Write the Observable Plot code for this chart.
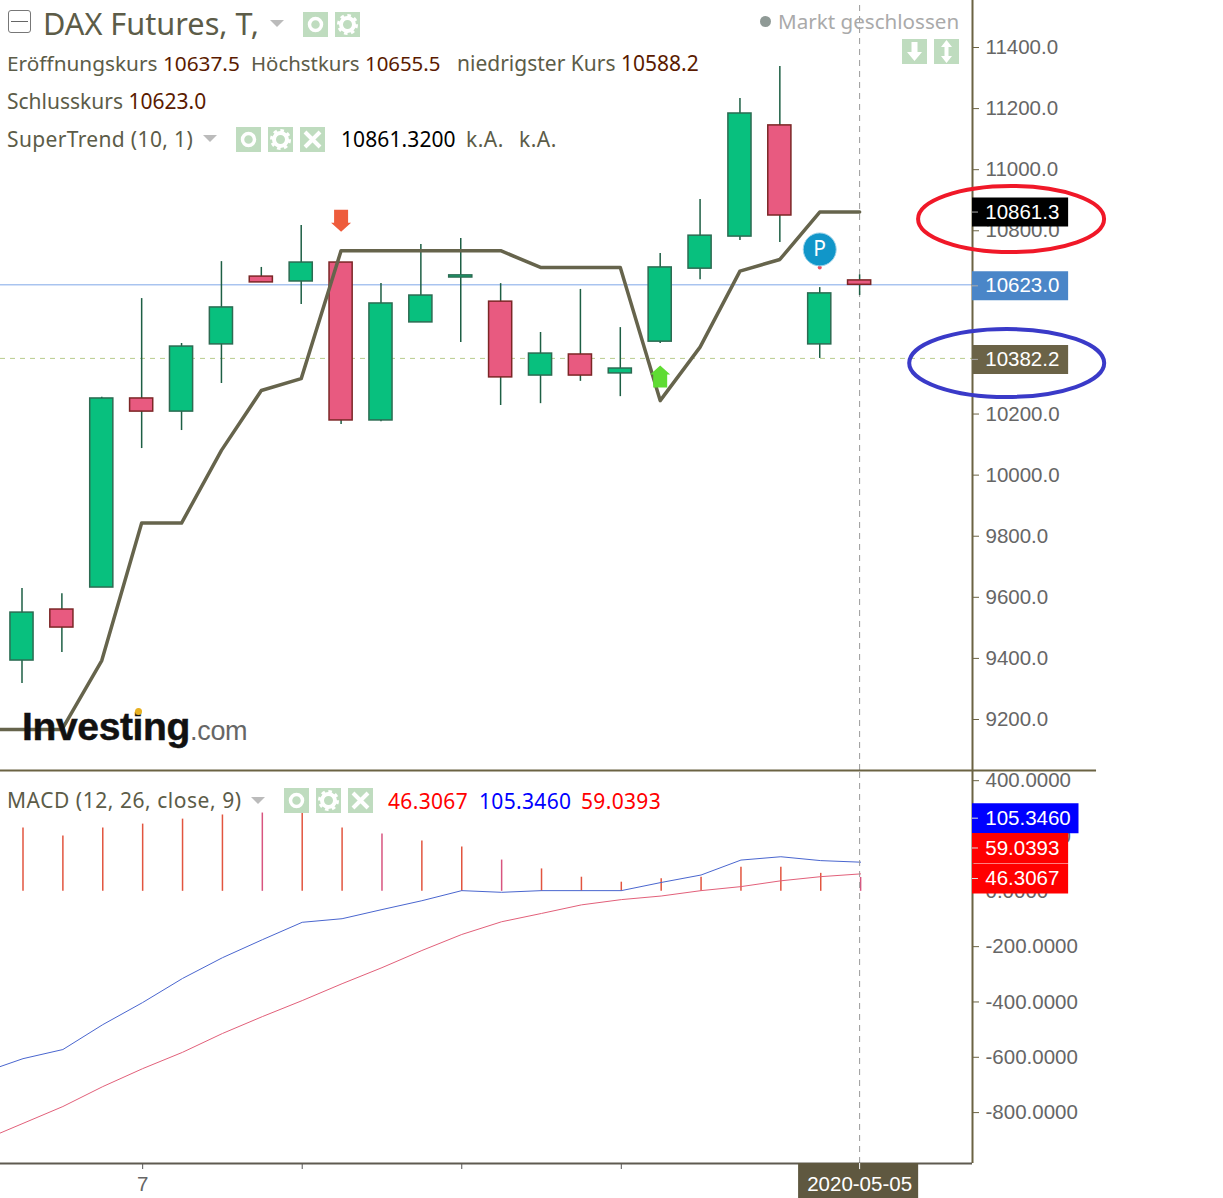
<!DOCTYPE html>
<html><head><meta charset="utf-8">
<script src="https://cdn.jsdelivr.net/npm/d3@7"></script>
<script src="https://cdn.jsdelivr.net/npm/@observablehq/plot@0.6"></script>
<style>
html,body{margin:0;padding:0;background:#fff;}
#wrap{position:relative;width:1223px;height:1198px;overflow:hidden;}
#wrap>div>svg{display:block;}
.p{position:absolute;left:0;}
.t{position:absolute;white-space:nowrap;font-family:"Noto Sans",sans-serif;font-size:21px;line-height:24px;color:#5c5c48;}
.v{color:#5a1a00;}
.ic{position:absolute;}
.tri{position:absolute;width:0;height:0;border-left:7px solid transparent;border-right:7px solid transparent;border-top:7px solid #bbb;}
</style>
</head><body><div id="wrap"></div>
<script>
// ---- data ----
const barIndex = [0,1,2,3,4,5,6,7,8,9,10,11,12,13,14,15,16,17,18,19,20,21];
const opens  = [9393,9560,9632,10251,10208,10428,10650,10634,10696,10179,10500,10647,10568,10326,10395,10333,10437,10676,10781,11145,10428,10637.5];
const highs  = [9629,9612,10255,10578,10431,10699,10680,10817,10696,10627,10755,10775,10627,10467,10608,10483,10726,10902,11233,11338,10614,10655.5];
const lows   = [9318,9419,9632,10087,10146,10300,10631,10559,10166,10175,10500,10434,10228,10234,10307,10257,10431,10640,10768,10762,10382,10588.2];
const closes = [9550,9501,10251,10208,10421,10549,10631,10696,10179,10562,10588,10654,10320,10398,10326,10349,10680,10784,11184,10850,10595,10623];

const lineIndex  = [-1,0,1,2,3,4,5,6,7,8,9,10,11,12,13,14,15,16,17,18,19,20,21];
const superTrend = [9167,9167,9167,9393,9843,9843,10081,10277,10316,10735,10735,10735,10735,10735,10680,10680,10680,10244,10419,10668,10706,10861.3,10861.3];
const macdLine   = [-655,-605,-572,-482,-402,-315,-240,-175,-112,-99,-66,-34,2.5,-3.6,2.5,2.5,2.5,32,59,113,125,111,105.346];
const signalLine = [-900,-839,-778,-706,-641,-582,-514,-453,-395,-334,-276,-214,-156,-110,-80,-49,-30,-17,2.5,17,38,53,63];
const histogram  = [229,200,229,243,261,276,283,283,229,207,182,160,113,81,51,33,45,51,87,87,65,50];
const histPink   = [6,9,12,21];

const priceTicks = [9200,9400,9600,9800,10000,10200,10800,11000,11200,11400];
const macdTicks  = [-800,-600,-400,-200,0,200,400];
const dayTicks   = [3,7,11,15];
const dayLabels  = ["7","","",""];

const priceTags = [
  {v:10861.3, label:"10861.3", fill:"#000000", shift:0},
  {v:10623.0, label:"10623.0", fill:"#4a86c8", shift:1},
  {v:10382.2, label:"10382.2", fill:"#6b6347", shift:1}
];
const macdTags = [
  {v:105.346, label:"105.3460", fill:"#0000ff", end:26.5, shift:-44},
  {v:59.0393, label:"59.0393",  fill:"#ff0000", end:26.24, shift:-27},
  {v:46.3067, label:"46.3067",  fill:"#ff0000", end:26.24, shift:0}
];
const candles = barIndex.map((i,k)=>({i,o:opens[k],h:highs[k],l:lows[k],c:closes[k],up:closes[k]>=opens[k]}));
const lineRows = lineIndex.map((i,k)=>({i,st:superTrend[k],m:macdLine[k],s:signalLine[k]}));
const histRows = barIndex.map((i,k)=>({i,h:histogram[k]}));

// ---- shared scale settings ----
const xDomain=[-0.539,23.83], axisAt=23.83, tagEnd=26.24, tickEnd=23.98, labelAt=24.15, half=0.29;
const axisColor="#6b6343", tickText="#666666", tickFont=20.5;
const W=1223, MR=251;

const arrow = dir => ({draw(c,size){
  const s=Math.sqrt(size/Math.PI)/10; const d=dir;
  c.moveTo(-7*s,-11*s*d); c.lineTo(7*s,-11*s*d); c.lineTo(7*s,2*s*d); c.lineTo(10*s,2*s*d);
  c.lineTo(0,11*s*d); c.lineTo(-10*s,2*s*d); c.lineTo(-7*s,2*s*d); c.closePath();
}});
const ell=(cx,cy,rx,ry,col)=>(index,{x,y})=>{
  const e=document.createElementNS("http://www.w3.org/2000/svg","ellipse");
  e.setAttribute("cx",x(cx));e.setAttribute("cy",y(cy));e.setAttribute("rx",rx);e.setAttribute("ry",ry);
  e.setAttribute("fill","none");e.setAttribute("stroke",col);e.setAttribute("stroke-width",4);
  return e;
};

const upper = Plot.plot({
  width:W, height:770, marginLeft:0, marginRight:MR, marginTop:0, marginBottom:0,
  style:{background:"transparent",fontFamily:"'Liberation Sans',Arial,sans-serif",overflow:"visible"},
  x:{domain:xDomain,axis:null},
  y:{domain:[9033,11553.9],axis:null},
  marks:[
    Plot.axisY({anchor:"right",ticks:priceTicks,tickFormat:d=>d.toFixed(1),tickSize:6,tickPadding:7,fontSize:tickFont,stroke:axisColor,fill:tickText,label:null}),
    Plot.ruleY([10623],{x1:xDomain[0],x2:axisAt,stroke:"#7fa8e8",strokeWidth:1}),
    Plot.ruleY([10382.2],{x1:xDomain[0],x2:axisAt,stroke:"#b8cc8c",strokeWidth:1,strokeDasharray:"5,5"}),
    Plot.ruleX([21],{y1:9033,y2:11553.9,stroke:"#999",strokeWidth:1,strokeDasharray:"6,5"}),
    Plot.ruleX(candles,{x:"i",y1:"l",y2:"h",stroke:"#1d5f44",strokeWidth:1.5}),
    Plot.rect(candles,{x1:d=>d.i-half,x2:d=>d.i+half,y1:d=>Math.min(d.o,d.c),y2:d=>Math.max(d.o,d.c),
      fill:d=>d.up?"#08c07e":"#e85a80",stroke:d=>d.up?"#2c6b52":"#7c2626",strokeWidth:1.5}),
    Plot.line(lineRows,{x:"i",y:"st",stroke:"#66644c",strokeWidth:3.5,curve:"linear"}),
    Plot.dot([{i:8,v:10833}],{x:"i",y:"v",r:10,symbol:arrow(1),fill:"#ee5c3c",stroke:"none"}),
    Plot.dot([{i:16,v:10323}],{x:"i",y:"v",r:10,symbol:arrow(-1),fill:"#5fdc33",stroke:"none"}),
    Plot.dot([{i:20,v:10680}],{x:"i",y:"v",r:2,fill:"#ee5060",stroke:"none"}),
    Plot.dot([{i:20,v:10739}],{x:"i",y:"v",r:16.5,fill:"#1196c9",stroke:"#9fd4ea",strokeWidth:1}),
    Plot.text(["P"],{x:()=>20,y:()=>10739,fill:"#fff",fontSize:21,fontFamily:"'Noto Sans',sans-serif"}),
    Plot.ruleX([axisAt],{y1:9033,y2:11553.9,stroke:axisColor,strokeWidth:2}),
    ...priceTags.flatMap(t=>[
      Plot.ruleY([t.v],{x1:axisAt,x2:tagEnd,stroke:t.fill,strokeWidth:29,dy:t.shift}),
      Plot.ruleY([t.v],{x1:axisAt,x2:tickEnd,stroke:"#aaa",strokeWidth:1,dy:t.shift}),
      Plot.text([t.label],{x:()=>labelAt,y:()=>t.v,fill:"#fff",fontSize:tickFont,textAnchor:"start",dy:t.shift})
    ]),
    ell(24.81,10837,93,33,"#f01828"),
    ell(24.70,10365.5,97.5,34,"#3a3ac8")
  ]
});

const bTop=436.8, bBottom=-984;
const lower = Plot.plot({
  width:W, height:429, marginLeft:0, marginRight:MR, marginTop:1, marginBottom:35,
  style:{background:"transparent",fontFamily:"'Liberation Sans',Arial,sans-serif",overflow:"visible"},
  x:{domain:xDomain,axis:null},
  y:{domain:[bBottom,bTop],axis:null},
  marks:[
    Plot.axisY({anchor:"right",ticks:macdTicks,tickFormat:d=>d.toFixed(4),tickSize:6,tickPadding:7,fontSize:tickFont,stroke:axisColor,fill:tickText,label:null}),
    Plot.axisX({anchor:"bottom",ticks:dayTicks,tickFormat:d=>dayLabels[dayTicks.indexOf(d)],tickSize:6,tickPadding:7,fontSize:tickFont,stroke:"#555",fill:tickText,label:null,dx:1}),
    Plot.ruleX(histRows,{x:"i",y1:0,y2:"h",stroke:d=>histPink.includes(d.i)?"#d8557f":"#e2553f",strokeWidth:1.5,dx:1}),
    Plot.line(lineRows,{x:"i",y:"m",stroke:"#4a66cf",strokeWidth:1,dx:1}),
    Plot.line(lineRows,{x:"i",y:"s",stroke:"#e2607a",strokeWidth:1,dx:1}),
    Plot.ruleX([21],{y1:bBottom,y2:bTop,stroke:"#999",strokeWidth:1,strokeDasharray:"6,5"}),
    Plot.ruleX([axisAt],{y1:bBottom,y2:bTop,stroke:axisColor,strokeWidth:2}),
    Plot.ruleY([bTop],{x1:xDomain[0],x2:26.94,stroke:axisColor,strokeWidth:2}),
    Plot.ruleY([bBottom],{x1:xDomain[0],x2:axisAt,stroke:"#5f5a50",strokeWidth:2}),
    ...macdTags.flatMap(t=>[
      Plot.ruleY([t.v],{x1:axisAt,x2:t.end,stroke:t.fill,strokeWidth:30,dy:t.shift}),
      Plot.ruleY([t.v],{x1:axisAt,x2:tickEnd,stroke:"#ddd",strokeWidth:1,dy:t.shift}),
      Plot.text([t.label],{x:()=>labelAt,y:()=>t.v,fill:"#fff",fontSize:tickFont,textAnchor:"start",dy:t.shift})
    ]),
    Plot.rect([0],{x1:()=>19.47,x2:()=>22.48,y1:()=>-1112,y2:()=>bBottom,fill:"#5f5840"}),
    Plot.ruleX([21],{y1:bBottom,y2:-1006,stroke:"#fff",strokeWidth:1}),
    Plot.text(["2020-05-05"],{x:()=>21,y:()=>-1060,fill:"#fff",fontSize:tickFont})
  ]
});

const wrap=document.getElementById("wrap");
const a=document.createElement("div");a.className="p";a.style.top="0";a.appendChild(upper);wrap.appendChild(a);
const b=document.createElement("div");b.className="p";b.style.top="769px";b.appendChild(lower);wrap.appendChild(b);

// ---- legend overlay ----
function txt(s,x,cy,o={}){const e=document.createElement("div");e.className="t";e.innerHTML=s;
  e.style.left=x+"px";e.style.top=(cy-(o.lh||24)/2)+"px";e.style.lineHeight=(o.lh||24)+"px";
  if(o.size)e.style.fontSize=o.size+"px";if(o.color)e.style.color=o.color;if(o.font)e.style.fontFamily=o.font;
  if(o.weight)e.style.fontWeight=o.weight;if(o.ls!=null)e.style.letterSpacing=o.ls+"px";if(o.stroke)e.style.webkitTextStroke=o.stroke;wrap.appendChild(e);return e;}
function icon(kind,x,y,w=25,h=25){
  const g={eye:'<circle cx="12.5" cy="12.5" r="6" fill="none" stroke="#fff" stroke-width="3.5"/>',
   gear:'<circle cx="12.5" cy="12.5" r="6.5" fill="none" stroke="#fff" stroke-width="4"/><circle cx="12.5" cy="12.5" r="9" fill="none" stroke="#fff" stroke-width="3" stroke-dasharray="3.5,3.5"/>',
   x:'<path d="M5 5L20 20M20 5L5 20" stroke="#fff" stroke-width="4"/>',
   down:'<path d="M9.5 3H15.5V13H20L12.5 22L5 13H9.5Z" fill="#fff"/>',
   both:'<path d="M12.5 1L18 8H14.5V17H18L12.5 24L7 17H10.5V8H7Z" fill="#fff"/>'}[kind];
  const d=document.createElement("div");d.className="ic";d.style.cssText=`left:${x}px;top:${y}px;width:${w}px;height:${h}px;background:#bfdcbf`;
  d.innerHTML=`<svg width="${w}" height="${h}" viewBox="0 0 25 25" style="display:block">${g}</svg>`;wrap.appendChild(d);}
function tri(x,y){const d=document.createElement("div");d.className="tri";d.style.left=x+"px";d.style.top=y+"px";wrap.appendChild(d);}

const box=document.createElement("div");box.style.cssText="position:absolute;left:8px;top:10px;width:21px;height:21px;border:1.5px solid #777;border-radius:3px";
box.innerHTML='<div style="position:absolute;left:2px;right:2px;top:9.5px;height:1.5px;background:#666"></div>';wrap.appendChild(box);

txt("DAX Futures, T,",43,23,{size:30.7,lh:36});
tri(270,20);icon("eye",303,12);icon("gear",335,12);
txt('<span>Eröffnungskurs</span> <span class="v">10637.5</span>',7,63,{size:20.8});
txt('<span>Höchstkurs</span> <span class="v">10655.5</span>',251,63,{size:20.4});
txt('<span>niedrigster Kurs</span> <span class="v">10588.2</span>',457,63);
txt('<span>Schlusskurs</span> <span class="v">10623.0</span>',7,101);
txt('SuperTrend (10, 1)',7,139,{ls:0.35});tri(203,135);icon("eye",236,127);icon("gear",268,127);icon("x",300,127);
txt('10861.3200',341,139,{color:"#000",ls:0.1});txt('k.A.',466,139,{ls:0.5});txt('k.A.',519,139,{ls:0.5});
const dotM=document.createElement("div");dotM.style.cssText="position:absolute;left:760px;top:16px;width:11px;height:11px;border-radius:50%;background:#8f9a96";wrap.appendChild(dotM);
txt('Markt geschlossen',778,21,{size:20.6,color:"#aaaaaa"});
icon("down",902,39);icon("both",934,39);
txt('MACD (12, 26, close, 9)',7,800,{ls:0.54});tri(251,797);icon("eye",284,788);icon("gear",316,788);icon("x",348,788);
txt('46.3067',388,801,{color:"#ff0000",ls:0.33});txt('105.3460',479,801,{color:"#0000ff",ls:0.33});txt('59.0393',581,801,{color:"#ff0000",ls:0.33});

txt('Investing',22,727,{size:39,lh:44,weight:700,color:"#111",font:"'Liberation Sans',Arial,sans-serif",ls:-0.35,stroke:"0.5px #111"});
txt('.com',190,731,{size:27,lh:36,color:"#666",font:"'Liberation Sans',Arial,sans-serif",ls:-0.3});
const gold=document.createElement("div");gold.style.cssText="position:absolute;left:135px;top:708px;width:7px;height:7px;border-radius:50%;background:#e8b020";wrap.appendChild(gold);
</script></body></html>
